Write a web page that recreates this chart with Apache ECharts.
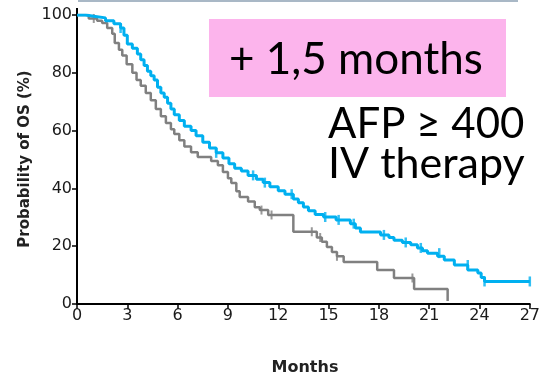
<!DOCTYPE html>
<html>
<head>
<meta charset="utf-8">
<script src="https://cdn.jsdelivr.net/npm/echarts@6/dist/echarts.min.js"></script>
<style>html,body{margin:0;padding:0;background:#fff}#c{width:543px;height:377px}</style>
</head>
<body>
<div id="c"></div>
<script>
// Months (x tick labels)
const xTicks = [0, 3, 6, 9, 12, 15, 18, 21, 24, 27];
const yTicks = [0, 20, 40, 60, 80, 100];

// Kaplan-Meier: IV therapy (blue) - month / survival %
const blueTimes = [0, 0.5, 1.1, 1.7, 2.2, 2.6, 2.8, 3.0, 3.3, 3.6, 3.8, 4.0, 4.2, 4.4, 4.6, 4.8, 5.0, 5.2, 5.4, 5.6, 5.8, 6.1, 6.4, 6.8, 7.1, 7.5, 7.9, 8.3, 8.7, 9.06, 9.4, 9.8, 10.2, 10.7, 11.1, 11.5, 12.0, 12.4, 12.9, 13.2, 13.5, 13.8, 14.2, 14.7, 15.45, 16.3, 16.6, 16.9, 18.1, 18.6, 18.9, 19.4, 19.9, 20.3, 20.6, 20.9, 21.5, 21.9, 22.5, 23.3, 23.9, 24.1, 24.3, 27];
const blueSurv  = [100, 99.5, 99, 98, 97, 95.5, 93, 90, 88.5, 86.5, 84.5, 82.5, 80.5, 79, 77.5, 75, 73, 71.5, 69.5, 67.5, 65.5, 63.5, 61.5, 60, 58.2, 56, 54, 52.3, 50.5, 48.5, 47, 46, 44.5, 43.2, 42, 40.6, 39.2, 38, 36.3, 35, 33.6, 32.3, 31, 30.1, 29.1, 27.8, 26.3, 24.9, 23.9, 23, 22.1, 21.3, 20.5, 19.4, 18.4, 17.6, 16.5, 15.2, 13.5, 11.8, 10.7, 9.2, 7.8, 7.8];

// Kaplan-Meier: comparator (grey)
const greyTimes = [0, 0.7, 1.2, 1.5, 1.8, 2.1, 2.25, 2.5, 2.7, 2.96, 3.3, 3.55, 3.8, 4.1, 4.4, 4.7, 5.0, 5.3, 5.6, 5.8, 6.1, 6.4, 6.8, 7.2, 8.0, 8.4, 8.7, 9.0, 9.2, 9.5, 9.7, 10.2, 10.6, 10.9, 11.4, 12.9, 14.3, 14.6, 14.9, 15.2, 15.5, 15.9, 17.9, 18.9, 20.1, 22.1];
const greySurv  = [100, 98.8, 98, 97.2, 95.5, 93.5, 90.3, 88, 86, 83, 80, 77.5, 75.5, 73, 70.5, 67.5, 65, 62.6, 60.5, 58.8, 56.7, 54.5, 52.5, 50.9, 49.5, 48, 45.7, 43.5, 41.9, 39, 37, 35.5, 33.5, 32.5, 30.8, 25, 23, 21.5, 19.7, 18, 16.5, 14.5, 11.8, 9, 5.2, 1.0];

// Censor marks
const blueCensorT = [2.6, 8.3, 10.5, 11.2, 12.8, 14.8, 15.6, 16.5, 18.3, 19.6, 20.5, 21.6, 23.3, 24.3, 27];
const blueCensorS = [95.5, 52.3, 44.5, 42, 38, 30.1, 29.1, 27.8, 23.9, 21.3, 19.4, 17.6, 13.5, 7.8, 7.8];
const greyCensorT = [1.0, 11.0, 11.6, 14.0, 14.5, 15.5, 20.0];
const greyCensorS = [98.8, 32.5, 30.8, 25, 23, 16.5, 9];

const zip = (a, b) => a.map((v, i) => [v, b[i]]);

const BLUE = '#00b0f0', GREY = '#808080';
const chart = echarts.init(document.getElementById('c'), null, {renderer: 'canvas'});
chart.setOption({
  animation: false,
  grid: {left: 77, right: 10, top: 15, bottom: 73},
  xAxis: {
    type: 'value', min: 0, max: 27, interval: 3,
    axisLine: {lineStyle: {color: '#000', width: 2}},
    axisTick: {show: true, length: 5, lineStyle: {color: '#000', width: 1.5}},
    axisLabel: {fontFamily: 'DejaVu Sans', fontSize: 16, color: '#1a1a1a', margin: 4,
      formatter: v => xTicks.includes(v) ? String(v) : ''},
    splitLine: {show: false}
  },
  yAxis: {
    type: 'value', min: 0, max: 100, interval: 20,
    axisLine: {show: true, lineStyle: {color: '#000', width: 2}},
    axisTick: {show: true, length: 5, lineStyle: {color: '#000', width: 1.5}},
    axisLabel: {fontFamily: 'DejaVu Sans', fontSize: 16, color: '#1a1a1a', margin: 5,
      formatter: v => yTicks.includes(v) ? String(v) : ''},
    splitLine: {show: false}
  },
  series: [
    {type: 'line', step: 'end', data: zip(greyTimes, greySurv), symbol: 'none',
      lineStyle: {color: GREY, width: 2.5}, z: 2},
    {type: 'scatter', data: zip(greyCensorT, greyCensorS), symbol: 'rect', symbolSize: [2, 9],
      itemStyle: {color: GREY}, z: 2},
    {type: 'line', step: 'end', data: zip(blueTimes, blueSurv), symbol: 'none',
      lineStyle: {color: BLUE, width: 3}, z: 3},
    {type: 'scatter', data: zip(blueCensorT, blueCensorS), symbol: 'rect', symbolSize: [2.5, 10],
      itemStyle: {color: BLUE}, z: 3}
  ],
  graphic: [
    {type: 'line', shape: {x1: 78, y1: 1, x2: 518, y2: 1}, style: {stroke: '#a9b8c6', lineWidth: 2}},
    {type: 'line', shape: {x1: 77, y1: 8, x2: 77, y2: 15}, style: {stroke: '#000', lineWidth: 2}},
    {type: 'rect', shape: {x: 209, y: 19, width: 297, height: 78}, style: {fill: '#fcb4ec'}, z: 10},
    {type: 'text', x: 229, y: 60, z: 11, style: {text: '+ 1,5 months', font: '44px Lato', fill: '#000', align: 'left', verticalAlign: 'middle'}},
    {type: 'text', x: 328, y: 124, z: 11, style: {text: 'AFP ≥ 400', font: '42px Lato', fill: '#000', align: 'left', verticalAlign: 'middle'}},
    {type: 'text', x: 328, y: 164, z: 11, style: {text: 'IV therapy', font: '43px Lato', fill: '#000', align: 'left', verticalAlign: 'middle'}},
    {type: 'text', x: 25, y: 159, rotation: Math.PI / 2, z: 11, style: {text: 'Probability of OS (%)', font: 'bold 15px "DejaVu Sans"', fill: '#222', align: 'center', verticalAlign: 'middle'}},
    {type: 'text', x: 305, y: 368, z: 11, style: {text: 'Months', font: 'bold 16px "DejaVu Sans"', fill: '#222', align: 'center', verticalAlign: 'middle'}}
  ]
});
</script>
</body>
</html>
